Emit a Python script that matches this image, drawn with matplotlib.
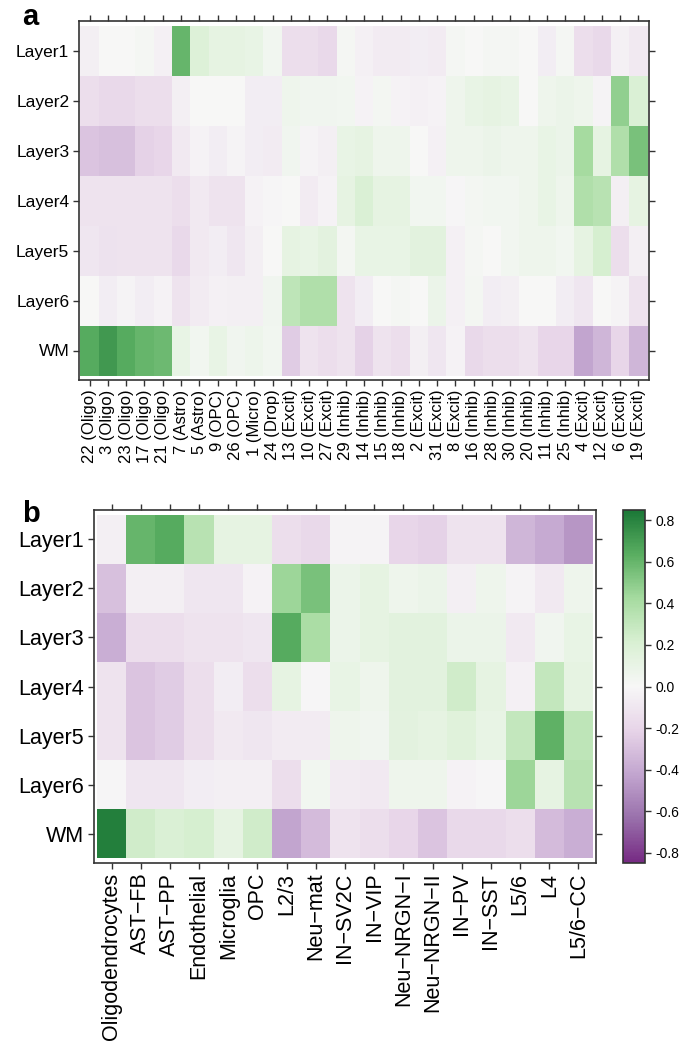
import numpy as np
import matplotlib
matplotlib.use('Agg')
import matplotlib.pyplot as plt
from matplotlib.colors import LinearSegmentedColormap

plt.rcParams['font.family'] = ['Liberation Sans', 'DejaVu Sans']

layers = ['Layer1', 'Layer2', 'Layer3', 'Layer4', 'Layer5', 'Layer6', 'WM']

clusters_a = ['22 (Oligo)', '3 (Oligo)', '23 (Oligo)', '17 (Oligo)', '21 (Oligo)',
              '7 (Astro)', '5 (Astro)', '9 (OPC)', '26 (OPC)', '1 (Micro)', '24 (Drop)',
              '13 (Excit)', '10 (Excit)', '27 (Excit)', '29 (Inhib)', '14 (Inhib)',
              '15 (Inhib)', '18 (Inhib)', '2 (Excit)', '31 (Excit)', '8 (Excit)',
              '16 (Inhib)', '28 (Inhib)', '30 (Inhib)', '20 (Inhib)', '11 (Inhib)',
              '25 (Inhib)', '4 (Excit)', '12 (Excit)', '6 (Excit)', '19 (Excit)']

# correlation values, one list per layer (panel a)
a_layer1 = [-0.05, 0.0, 0.0, 0.02, -0.04, 0.6, 0.18, 0.12, 0.12, 0.1, 0.04,
            -0.15, -0.15, -0.18, 0.02, -0.04, -0.07, -0.07, -0.06, -0.07, 0.02,
            0.0, 0.02, 0.02, 0.0, -0.06, 0.02, -0.15, -0.18, -0.04, -0.08]
a_layer2 = [-0.15, -0.18, -0.18, -0.15, -0.15, -0.05, 0.0, 0.0, 0.0, -0.06, -0.06,
            0.06, 0.05, 0.05, 0.04, -0.03, 0.03, -0.03, -0.04, -0.03, 0.06,
            0.1, 0.12, 0.1, 0.0, 0.06, 0.08, 0.06, -0.02, 0.48, 0.2]
a_layer3 = [-0.28, -0.3, -0.3, -0.22, -0.2, -0.08, -0.03, -0.06, -0.02, -0.06, -0.07,
            0.05, -0.02, -0.05, 0.1, 0.12, 0.06, 0.06, 0.0, -0.04, 0.06,
            0.06, 0.08, 0.06, 0.06, 0.1, 0.08, 0.42, 0.12, 0.38, 0.55]
a_layer4 = [-0.12, -0.12, -0.12, -0.12, -0.12, -0.15, -0.08, -0.12, -0.12, -0.03, -0.01,
            0.0, -0.07, -0.03, 0.12, 0.2, 0.12, 0.12, 0.04, 0.04, -0.01,
            0.03, 0.04, 0.04, 0.06, 0.1, 0.06, 0.38, 0.35, -0.05, 0.12]
a_layer5 = [-0.1, -0.13, -0.12, -0.12, -0.12, -0.18, -0.08, -0.06, -0.1, -0.05, 0.0,
            0.12, 0.1, 0.14, 0.03, 0.1, 0.1, 0.1, 0.15, 0.15, -0.04,
            0.02, 0.0, 0.04, 0.06, 0.06, 0.04, 0.12, 0.22, -0.15, -0.05]
a_layer6 = [0.0, -0.06, -0.02, -0.06, -0.03, -0.12, -0.07, -0.04, -0.05, -0.05, 0.05,
            0.32, 0.38, 0.38, -0.12, -0.06, 0.0, 0.02, 0.0, 0.08, -0.04,
            0.03, -0.06, -0.05, 0.0, 0.0, -0.06, -0.1, 0.0, -0.02, -0.12]
a_wm = [0.65, 0.72, 0.65, 0.6, 0.58, 0.1, 0.04, 0.1, 0.05, 0.07, 0.04,
        -0.25, -0.12, -0.15, -0.12, -0.22, -0.12, -0.15, -0.05, -0.1, -0.03,
        -0.18, -0.15, -0.15, -0.12, -0.2, -0.2, -0.42, -0.35, -0.2, -0.35]

cell_types_b = ['Oligodendrocytes', 'AST\u2212FB', 'AST\u2212PP', 'Endothelial', 'Microglia',
                'OPC', 'L2/3', 'Neu\u2212mat', 'IN\u2212SV2C', 'IN\u2212VIP', 'Neu\u2212NRGN\u2212I',
                'Neu\u2212NRGN\u2212II', 'IN\u2212PV', 'IN\u2212SST', 'L5/6', 'L4', 'L5/6\u2212CC']

b_layer1 = [-0.05, 0.6, 0.65, 0.35, 0.12, 0.12, -0.15, -0.18, -0.02, -0.02,
            -0.2, -0.22, -0.12, -0.12, -0.35, -0.4, -0.48]
b_layer2 = [-0.3, -0.05, -0.05, -0.1, -0.1, -0.03, 0.45, 0.55, 0.08, 0.12,
            0.06, 0.08, -0.05, 0.06, -0.02, -0.08, 0.06]
b_layer3 = [-0.38, -0.15, -0.15, -0.12, -0.12, -0.1, 0.65, 0.4, 0.08, 0.12,
            0.15, 0.15, 0.08, 0.08, -0.08, 0.05, 0.1]
b_layer4 = [-0.12, -0.28, -0.25, -0.15, -0.06, -0.15, 0.12, -0.01, 0.1, 0.06,
            0.15, 0.15, 0.25, 0.12, -0.04, 0.3, 0.12]
b_layer5 = [-0.12, -0.28, -0.25, -0.15, -0.08, -0.1, -0.07, -0.07, 0.06, 0.05,
            0.14, 0.12, 0.16, 0.1, 0.3, 0.62, 0.32]
b_layer6 = [-0.01, -0.1, -0.1, -0.06, -0.05, -0.05, -0.15, 0.04, -0.07, -0.08,
            0.06, 0.06, -0.03, -0.01, 0.45, 0.12, 0.35]
b_wm = [0.82, 0.25, 0.2, 0.22, 0.12, 0.25, -0.42, -0.32, -0.12, -0.15,
        -0.2, -0.28, -0.18, -0.18, -0.15, -0.32, -0.38]

colorbar_ticks = [-0.8, -0.6, -0.4, -0.2, 0.0, 0.2, 0.4, 0.6, 0.8]

mat_a = np.array([a_layer1, a_layer2, a_layer3, a_layer4, a_layer5, a_layer6, a_wm])
mat_b = np.array([b_layer1, b_layer2, b_layer3, b_layer4, b_layer5, b_layer6, b_wm])

cmap = LinearSegmentedColormap.from_list(
    'prgn9', ['#762a83', '#9970ab', '#c2a5cf', '#e7d4e8', '#f7f7f7',
              '#d9f0d3', '#a6dba0', '#5aae61', '#1b7837'])
vmin, vmax = -0.85, 0.85
frame_col = '#333333'


def heat(ax, mat, xlabels, ylabels, xfs, yfs, xpad, ypad):
    nr, nc = mat.shape
    mesh = ax.pcolormesh(np.arange(nc + 1) - 0.5, np.arange(nr + 1) - 0.5, mat,
                         cmap=cmap, vmin=vmin, vmax=vmax, shading='flat')
    ax.set_xlim(-0.5 - xpad, nc - 0.5 + xpad)
    ax.set_ylim(nr - 0.5 + ypad, -0.5 - ypad)
    ax.set_xticks(np.arange(nc))
    ax.set_xticklabels(xlabels, rotation=90, fontsize=xfs)
    ax.set_yticks(np.arange(nr))
    ax.set_yticklabels(ylabels, fontsize=yfs)
    ax.tick_params(direction='out', length=4, width=1, color=frame_col,
                   top=True, right=True, pad=3)
    for s in ax.spines.values():
        s.set_color(frame_col)
        s.set_linewidth(1.2)
    return mesh


fig = plt.figure(figsize=(6.86, 10.5), dpi=100)

ax_a = fig.add_axes([79 / 686, 1 - 380 / 1050, 570 / 686, 359 / 1050])
heat(ax_a, mat_a, clusters_a, layers, 12, 12.5, 0.08, 0.09)

ax_b = fig.add_axes([94 / 686, 1 - 863 / 1050, 502 / 686, 353 / 1050])
mesh_b = heat(ax_b, mat_b, cell_types_b, layers, 15.5, 15.5, 0.1, 0.1)

cax = fig.add_axes([623 / 686, 1 - 863 / 1050, 22 / 686, 353 / 1050])
cb = fig.colorbar(mesh_b, cax=cax, ticks=colorbar_ticks)
cb.ax.tick_params(labelsize=10, length=4, width=1, color=frame_col)
cb.ax.set_yticklabels(['%.1f' % t for t in colorbar_ticks])
cb.outline.set_edgecolor(frame_col)
cb.outline.set_linewidth(1.2)

fig.text(22 / 686, 1 - 25 / 1050, 'a', fontsize=21, fontweight='bold')
fig.text(22 / 686, 1 - 522 / 1050, 'b', fontsize=21, fontweight='bold')

fig.savefig('out.png', dpi=100)
